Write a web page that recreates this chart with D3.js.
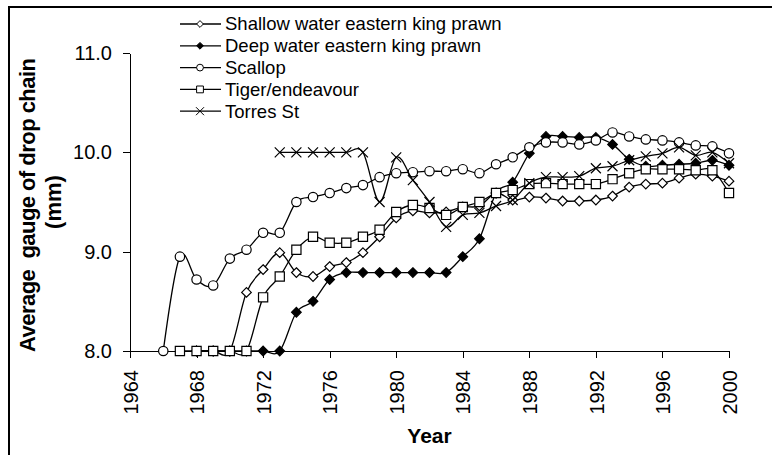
<!DOCTYPE html>
<html lang="en">
<head>
<meta charset="UTF-8">
<script src="https://d3js.org/d3.v7.min.js"></script>
<style>
    body { margin: 0; background: #fff; }
    svg text { font-family: Arial, "Liberation Sans", sans-serif; fill: #000; }
    .axis path, .axis line { stroke: #000; stroke-width: 1px; shape-rendering: crispEdges; }
    .axis text { font-size: 20px; }
</style>
</head>
<body>
<svg id="chart" width="772" height="455"></svg>
<script>
// data
const seriesNames = ["Shallow water eastern king prawn", "Deep water eastern king prawn",
                     "Scallop", "Tiger/endeavour", "Torres St"];
const shallowStart = 1968;
const shallow = [8.0, 8.0, 8.0, 8.59, 8.82, 8.99, 8.79, 8.75, 8.85, 8.89, 8.99, 9.15, 9.34, 9.41,
                 9.39, 9.40, 9.45, 9.46, 9.59, 9.52, 9.55, 9.54, 9.51, 9.51, 9.52, 9.56, 9.65, 9.68,
                 9.69, 9.74, 9.78, 9.76, 9.71];
const deepStart = 1968;
const deep = [8.0, 8.0, 8.0, 8.0, 8.0, 8.0, 8.39, 8.50, 8.72, 8.79, 8.79, 8.79, 8.79, 8.79, 8.79,
              8.79, 8.95, 9.13, 9.59, 9.70, 9.99, 10.16, 10.16, 10.15, 10.15, 10.08, 9.93, 9.86,
              9.87, 9.88, 9.89, 9.92, 9.87];
const scallopStart = 1966;
const scallop = [8.0, 8.95, 8.72, 8.66, 8.93, 9.02, 9.19, 9.19, 9.50, 9.55, 9.59, 9.64, 9.67, 9.75,
                 9.79, 9.80, 9.81, 9.81, 9.83, 9.79, 9.88, 9.95, 10.05, 10.10, 10.10, 10.08, 10.12,
                 10.20, 10.16, 10.13, 10.12, 10.10, 10.07, 10.06, 9.99];
const tigerStart = 1967;
const tiger = [8.0, 8.0, 8.0, 8.0, 8.0, 8.54, 8.75, 9.02, 9.15, 9.09, 9.09, 9.15, 9.22, 9.40, 9.47,
               9.44, 9.37, 9.45, 9.50, 9.59, 9.62, 9.68, 9.69, 9.68, 9.68, 9.68, 9.73, 9.79, 9.83,
               9.83, 9.83, 9.82, 9.82, 9.59];
const torresStart = 1973;
const torres = [10.0, 10.0, 10.0, 10.0, 10.0, 10.0, 9.50, 9.95, 9.72, 9.50, 9.25, 9.37, 9.39, 9.46,
                9.52, 9.69, 9.75, 9.75, 9.76, 9.84, 9.86, 9.92, 9.96, 9.99, 10.05, 9.97, 10.00, 9.89];
const xTicks = [1964, 1968, 1972, 1976, 1980, 1984, 1988, 1992, 1996, 2000];
const yTicks = [8.0, 9.0, 10.0, 11.0];

const series = [
    { name: seriesNames[0], start: shallowStart, values: shallow, marker: "diamond", fill: "#fff" },
    { name: seriesNames[1], start: deepStart, values: deep, marker: "diamond", fill: "#000" },
    { name: seriesNames[2], start: scallopStart, values: scallop, marker: "circle", fill: "#fff" },
    { name: seriesNames[3], start: tigerStart, values: tiger, marker: "square", fill: "#fff" },
    { name: seriesNames[4], start: torresStart, values: torres, marker: "x", fill: "none" }
];

const svg = d3.select("#chart");

// outer frame
svg.append("rect")
    .attr("x", 9).attr("y", 7).attr("width", 800).attr("height", 500)
    .attr("fill", "none").attr("stroke", "#000").attr("stroke-width", 2);

const plotLeft = 130, plotRight = 729, plotTop = 53, plotBottom = 351;

const x = d3.scaleLinear().domain([1964, 2000]).range([plotLeft, plotRight]);
const y = d3.scaleLinear().domain([8, 11]).range([plotBottom, plotTop]);

// axes
svg.append("g")
    .attr("class", "axis")
    .attr("transform", `translate(${plotLeft},0)`)
    .call(d3.axisLeft(y).tickValues(yTicks).tickFormat(d3.format(".1f"))
        .tickSize(7).tickSizeOuter(0).tickPadding(11));

const xAxis = svg.append("g")
    .attr("class", "axis")
    .attr("transform", `translate(0,${plotBottom})`)
    .call(d3.axisBottom(x).tickValues(xTicks).tickFormat(d3.format("d"))
        .tickSize(7).tickSizeOuter(0));

xAxis.selectAll("text")
    .attr("transform", "rotate(-90)")
    .attr("x", -19)
    .attr("y", 0)
    .attr("dy", "0.36em")
    .style("font-size", "20px")
    .style("text-anchor", "end");

// axis titles
svg.append("text")
    .attr("transform", `translate(35,${(plotTop + plotBottom) / 2 + 3}) rotate(-90)`)
    .attr("text-anchor", "middle")
    .attr("textLength", 294)
    .attr("lengthAdjust", "spacing")
    .style("font-size", "22px")
    .style("font-weight", "bold")
    .style("white-space", "pre")
    .text("Average  gauge of drop chain");

svg.append("text")
    .attr("transform", `translate(61,${(plotTop + plotBottom) / 2}) rotate(-90)`)
    .attr("text-anchor", "middle")
    .style("font-size", "22px")
    .style("font-weight", "bold")
    .text("(mm)");

svg.append("text")
    .attr("x", (plotLeft + plotRight) / 2)
    .attr("y", 443)
    .attr("text-anchor", "middle")
    .style("font-size", "21px")
    .style("font-weight", "bold")
    .text("Year");

// marker shapes
function markerPath(type, r) {
    const p = d3.path();
    if (type === "diamond") {
        p.moveTo(0, -r); p.lineTo(r, 0); p.lineTo(0, r); p.lineTo(-r, 0); p.closePath();
    } else if (type === "circle") {
        p.moveTo(r, 0); p.arc(0, 0, r, 0, 2 * Math.PI);
    } else if (type === "square") {
        p.rect(-r, -r, 2 * r, 2 * r);
    } else {
        p.moveTo(-r, -r); p.lineTo(r, r); p.moveTo(-r, r); p.lineTo(r, -r);
    }
    return p.toString();
}
const markerSize = { diamond: 4.8, circle: 4.7, square: 4.6, x: 5 };

const line = d3.line()
    .x(d => x(d.year))
    .y(d => y(d.value))
    .curve(d3.curveCardinal.tension(0));

series.forEach(s => {
    const pts = s.values.map((v, i) => ({ year: s.start + i, value: v }));
    const g = svg.append("g");
    g.append("path")
        .datum(pts)
        .attr("d", line)
        .attr("fill", "none")
        .attr("stroke", "#000")
        .attr("stroke-width", 1.3);
    g.selectAll("path.mk")
        .data(pts)
        .enter().append("path")
        .attr("class", "mk")
        .attr("transform", d => `translate(${x(d.year)},${y(d.value)})`)
        .attr("d", markerPath(s.marker, markerSize[s.marker]))
        .attr("fill", s.fill)
        .attr("stroke", "#000")
        .attr("stroke-width", 1.2);
});

// legend
const legend = svg.append("g");
series.forEach((s, i) => {
    const ly = 24 + i * 21.8;
    legend.append("line")
        .attr("x1", 180).attr("x2", 221).attr("y1", ly).attr("y2", ly)
        .attr("stroke", "#000").attr("stroke-width", 1.3);
    legend.append("path")
        .attr("transform", `translate(200,${ly})`)
        .attr("d", markerPath(s.marker, s.marker === "x" ? 4 : 3.4))
        .attr("fill", s.fill)
        .attr("stroke", "#000")
        .attr("stroke-width", 1);
    legend.append("text")
        .attr("x", 225).attr("y", ly)
        .attr("dy", "0.35em")
        .style("font-size", "18.5px")
        .text(s.name);
});
</script>
</body>
</html>
